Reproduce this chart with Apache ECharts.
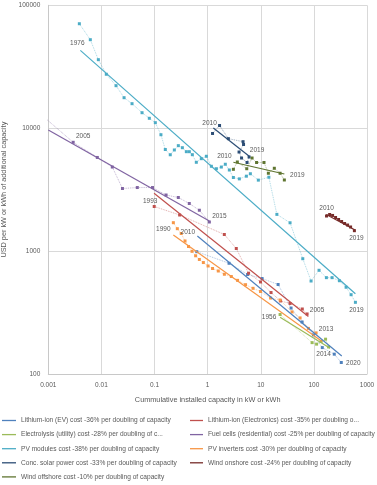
<!DOCTYPE html>
<html>
<head>
<meta charset="utf-8">
<script src="https://cdn.jsdelivr.net/npm/echarts@6/dist/echarts.min.js"></script>
<style>
  html, body { margin: 0; padding: 0; background: #fff; }
  #main { width: 377px; height: 485px; }
</style>
</head>
<body>
<div id="main"></div>
<script>
// cumulative capacity (x) and cost (y)
const pvX = [0.00384,0.00618,0.00875,0.01236,0.01884,0.0267,0.0377,0.0582,0.0798,0.1035,0.132,0.1596,0.1977,0.236,0.2805,0.334,0.397,0.452,0.515,0.612,0.760,0.946,1.175,1.459,1.81,2.15,2.56,3.05,3.95,5.36,6.37,9.0,14.2,20.1,35.6,61.8,88.5,125,172,220,302,404,502,605];
const pvY = [70800,52500,36100,27470,22180,17710,15830,13370,12040,11090,8850,6710,6080,6650,7210,6940,6440,6440,6090,5280,5650,5910,4900,4680,4830,5090,4570,3970,3870,4070,4260,3780,3990,1990,1700,867,571,698,608,608,574,508,442,383];
const pvTrend = [[0.00401,43000],[605,450]];

const fcX = [0.000805,0.00294,0.00837,0.01603,0.0249,0.0474,0.0916,0.165,0.2805,0.451,0.698,1.077];
const fcY = [12450,7680,5780,4830,3230,3290,3290,2860,2730,2440,2150,1725];
const fcTrend = [[0.001,9670],[1.077,1758]];

const liElX = [0.0986,0.297,2.06,3.46,5.89,9.9,15.6,23.6,35.6,60.5,74.5];
const liElY = [2307,1967,1365,1050,661,561,460,393,375,338,308];
const liElTrend = [[0.098,2953],[78.8,294]];

const invX = [0.226,0.2685,0.318,0.375,0.436,0.508,0.594,0.698,0.830,1.018,1.236,1.585,2.065,2.79,3.66,5.17,7.16,9.9,15.3,23.1,38.8,55,78.8,110];
const invY = [1703,1522,1391,1209,1090,996,916,855,807,757,722,689,648,621,578,533,498,469,415,400,320,286,235,216];
const invTrend = [[0.226,1352],[143,184]];

const evX = [0.624,2.53,5.64,10.6,21.2,37.2,60,98,144,242,328];
const evY = [989,796,645,598,535,344,265,208,164,145,124];
const evTrend = [[0.64,1327],[335,140]];

const elX = [23.1,92.5,112.5,137,166,189];
const elY = [305,180,175,184,192,166];
const elTrend = [[23.1,289],[202,162]];

const cspX = [1.236,1.675,2.455,4.64,4.74,3.90,4.35,5.52,6.03];
const cspY = [9060,10520,8220,7770,7370,6400,5720,5260,5830];
const cspTrend = [[1.28,10040],[6.15,5890]];

const offX = [3.05,3.62,5.45,6.86,8.34,11.5,13.9,18.0,23.1,27.8];
const offY = [4630,5310,4680,5720,5260,5260,4300,4720,4300,3790];
const offTrend = [[3.05,5280],[27.8,4240]];

const onX = [173,198,225,256,292,333,379,431,491,579];
const onY = [1930,1985,1950,1876,1807,1741,1678,1630,1571,1466];
const onTrend = [[171,1985],[597,1485]];

const legendLeft = [
  'Lithium-ion (EV) cost -36% per doubling of capacity',
  'Electrolysis (utility) cost -28% per doubling of c...',
  'PV modules cost -38% per doubling of capacity',
  'Conc. solar power cost -33% per doubling of capacity',
  'Wind offshore cost -10% per doubling of capacity'
];
const legendRight = [
  'Lithium-ion (Electronics) cost -35% per doubling o...',
  'Fuel cells (residential) cost -25% per doubling of capacity',
  'PV inverters cost -30% per doubling of capacity',
  'Wind onshore cost -24% per doubling of capacity'
];

const techs = [
  {name: legendLeft[0], color: '#4F81BD', x: evX, y: evY, trend: evTrend, years: ['2010','2020'], first: 0, offA: [-9,-19], offB: [12,1]},
  {name: legendRight[0], color: '#C0504D', x: liElX, y: liElY, trend: liElTrend, years: ['1993','2005'], first: 0, offA: [-4,-5], offB: [10,-4]},
  {name: legendLeft[1], color: '#9BBB59', x: elX, y: elY, trend: elTrend, years: ['1956','2014'], first: 0, offA: [-11,3], offB: [-5,7]},
  {name: legendRight[1], color: '#8064A2', x: fcX, y: fcY, trend: fcTrend, years: ['2005','2015'], first: 1, offA: [10,-6], offB: [10,-6]},
  {name: legendLeft[2], color: '#4BACC6', x: pvX, y: pvY, trend: pvTrend, years: ['1976','2019'], first: 0, offA: [-2,19], offB: [1,8]},
  {name: legendRight[2], color: '#F79646', x: invX, y: invY, trend: invTrend, years: ['1990','2013'], first: 0, offA: [-10,7], offB: [10,-4]},
  {name: legendLeft[3], color: '#2C4D75', x: cspX, y: cspY, trend: cspTrend, years: ['2010','2019'], first: 0, offA: [-3,-10], offB: [8,-7]},
  {name: legendRight[3], color: '#772C2A', x: onX, y: onY, trend: onTrend, years: ['2010','2019'], first: 0, offA: [0,-8], offB: [2,8]},
  {name: legendLeft[4], color: '#5F7530', x: offX, y: offY, trend: offTrend, years: ['2010','2019'], first: 0, offA: [-9,-13], offB: [13,-5]}
];

let series = [];
techs.forEach(function (t) {
  let pts = t.x.map(function (v, i) {
    let p = {value: [v, t.y[i]]};
    if (i === t.first) p.label = {show: true, formatter: t.years[0], offset: t.offA};
    if (i === t.x.length - 1) p.label = {show: true, formatter: t.years[1], offset: t.offB};
    return p;
  });
  series.push({
    name: t.name + ' (data)',
    type: 'line',
    data: pts,
    symbol: 'rect',
    symbolSize: 3,
    clip: true,
    itemStyle: {color: t.color},
    lineStyle: {color: t.color, width: 0.9, type: 'dotted', opacity: 0.55},
    label: {show: false, position: 'inside', color: '#595959', fontSize: 6.5, fontFamily: 'Liberation Sans'},
    z: 2,
    silent: true
  });
  series.push({
    name: t.name,
    type: 'line',
    data: t.trend,
    symbol: 'none',
    color: t.color,
    lineStyle: {color: t.color, width: 1.2},
    z: 3,
    silent: true
  });
});

const legendText = {color: '#595959', fontSize: 6.6, fontFamily: 'Liberation Sans'};
const plain = function (v) { return String(v); };

let myChart = echarts.init(document.getElementById('main'));
myChart.setOption({
  animation: false,
  backgroundColor: '#fff',
  grid: {left: 48.3, right: 10, top: 5.3, bottom: 111, containLabel: false, outerBoundsMode: 'none'},
  legend: [
    {orient: 'vertical', left: 2, top: 417, padding: 0, icon: 'rect', itemWidth: 14, itemHeight: 1.3, itemGap: 7.1, data: legendLeft, textStyle: legendText},
    {orient: 'vertical', left: 190, top: 417, padding: 0, icon: 'rect', itemWidth: 13, itemHeight: 1.3, itemGap: 7.1, data: legendRight, textStyle: legendText}
  ],
  xAxis: {
    type: 'log',
    logBase: 10,
    min: 0.001,
    max: 1000,
    splitNumber: 6,
    name: 'Cummulative installed capacity in kW or kWh',
    nameLocation: 'middle',
    nameGap: 22,
    nameTextStyle: {color: '#595959', fontSize: 7.3, fontFamily: 'Liberation Sans'},
    axisLine: {lineStyle: {color: '#C8C8C8'}},
    axisTick: {show: false},
    axisLabel: {color: '#595959', fontSize: 6.5, fontFamily: 'Liberation Sans', margin: 8, formatter: plain},
    splitLine: {show: true, lineStyle: {color: '#D9D9D9'}}
  },
  yAxis: {
    type: 'log',
    logBase: 10,
    min: 100,
    max: 100000,
    splitNumber: 3,
    name: 'USD per kW or kWh of additional capacity',
    nameLocation: 'middle',
    nameGap: 35,
    nameTextStyle: {color: '#595959', fontSize: 7.3, fontFamily: 'Liberation Sans'},
    axisLine: {show: true, lineStyle: {color: '#C8C8C8'}},
    axisTick: {show: false},
    axisLabel: {color: '#595959', fontSize: 6.5, fontFamily: 'Liberation Sans', margin: 8, formatter: plain},
    splitLine: {show: true, lineStyle: {color: '#D9D9D9'}}
  },
  series: series
});
</script>
</body>
</html>
